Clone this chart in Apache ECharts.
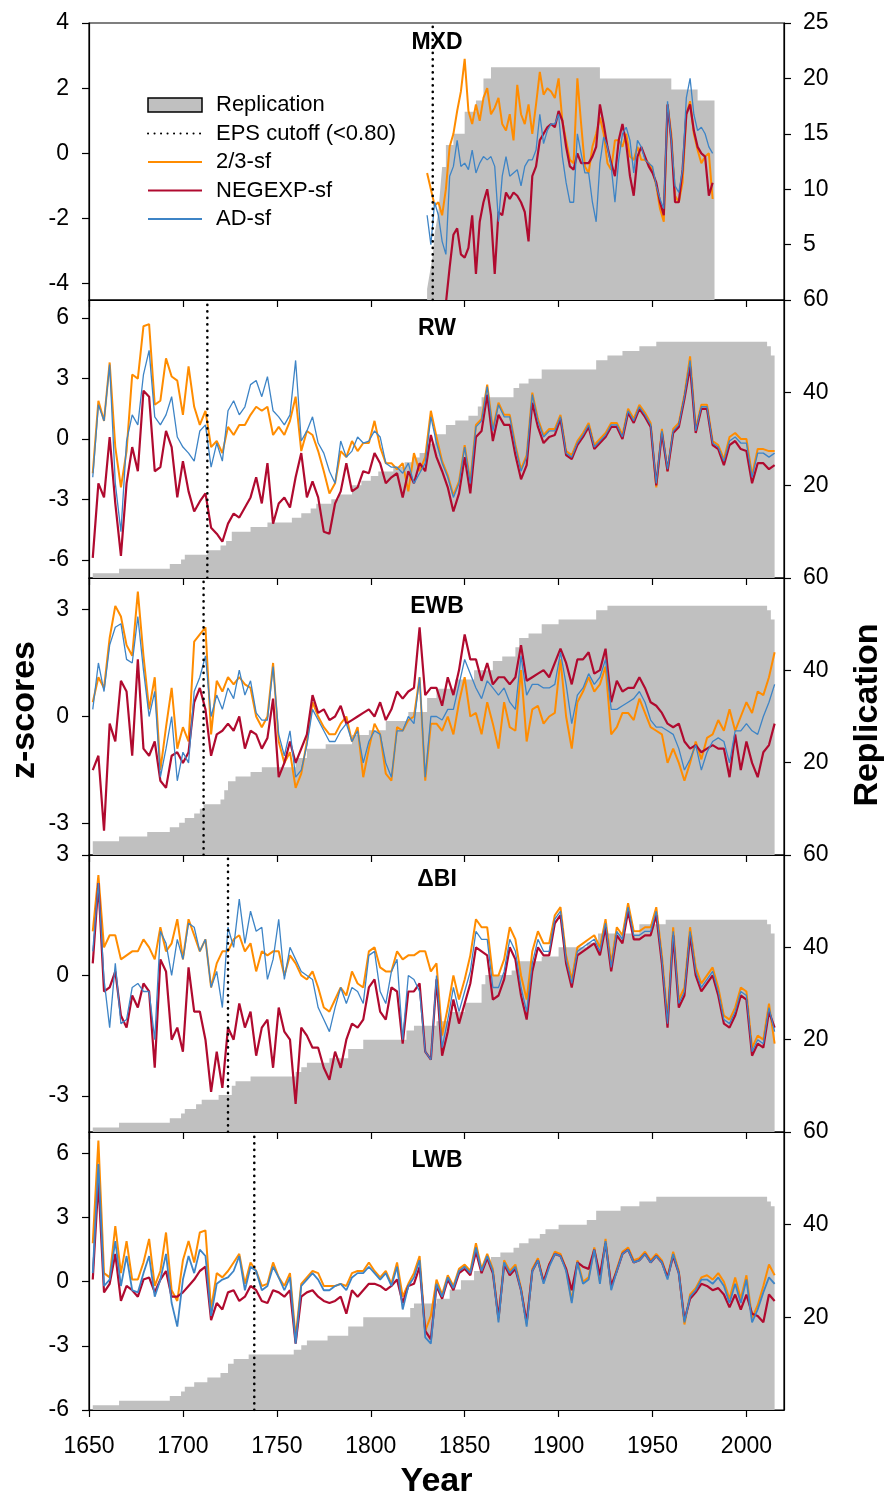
<!DOCTYPE html>
<html>
<head>
<meta charset="utf-8">
<script src="https://cdn.jsdelivr.net/npm/echarts@6/dist/echarts.min.js"></script>
<style>
  html, body { margin: 0; padding: 0; background: #fff; }
  #main { width: 890px; height: 1499px; }
</style>
</head>
<body>
<div id="main"></div>
<script>
// ---- data (z-scores, every 3rd year; MXD every 2nd year) ----
const years3 = [];
for (let y = 1652; y <= 2015; y += 3) years3.push(y);
const yearsMXD = [];
for (let y = 1830; y <= 1982; y += 2) yearsMXD.push(y);

const xTicks = [1650, 1700, 1750, 1800, 1850, 1900, 1950, 2000];

// MXD
const mxdOrange = [
  -0.6, -1.1, -1.6, -1.5, -1.9, -1.1, 0.2, 0.6, 1.3, 1.9,
  2.9, 1.3, 0.9, 1.5, 1.0, 1.7, 2.0, 1.2, 1.4, 1.7,
  0.9, 0.7, 1.2, 0.4, 2.1, 1.2, 0.9, 1.5, 0.6, 1.5,
  2.5, 1.8, 2.0, 1.9, 1.7, 2.3, 1.0, 0.4, -0.2, -0.3,
  2.3, 0.9, -0.4, -0.6, 0.2, 0.6, 1.1, 0.6, -0.3, -0.5,
  0.4, 0.4, 0.2, 0.6, -0.1, -0.2, 0.2, -0.2, -0.2, -0.3,
  -0.5, -1.0, -1.7, -2.1, 1.5, 0.6, -1.3, -1.5, -0.9, 1.2,
  1.6, 0.6, 0.1, -0.3, -0.1, 0.0, -1.4
];
const mxdRed = [
  -5.5, -6.0, -5.8, -6.2, -5.5, -4.6, -3.5, -2.5, -2.3, -3.1,
  -3.2, -2.9, -1.9, -3.7, -2.1, -1.5, -1.1, -1.9, -3.7, -1.8,
  -1.9, -1.2, -1.4, -1.2, -1.3, -1.5, -1.8, -2.7, -0.7, -0.4,
  0.4, 0.6, 0.8, 0.9, 0.8, 1.3, 1.0, 0.2, -0.4, -0.5,
  0.0, -0.3, -0.3, -0.3, -0.1, 0.2, 1.5, 0.9, 0.2, -0.3,
  -0.7, 0.4, 0.9, 0.3, -0.7, -1.3, -0.1, 0.2, -0.1, -0.4,
  -0.6, -0.9, -1.5, -1.9, 1.5, 0.4, -1.5, -1.5, -0.5, 1.2,
  1.5, 0.7, 0.2, 0.0, -0.1, -1.3, -0.9
];
const mxdBlue = [
  -1.9, -2.8, -1.5, -1.9, -2.7, -3.1, -0.7, -0.4, 0.4, -0.4,
  -0.3, -0.5, 0.1, -0.6, -0.3, -0.1, -0.2, -0.1, -0.4, -2.1,
  -0.7, -0.1, -0.7, -0.6, -0.5, -1.0, -0.4, -0.2, -0.2, 0.1,
  1.2, 0.3, 0.7, 0.9, 0.9, 1.2, -0.1, -0.9, -1.5, -1.5,
  0.6, 0.0, -0.6, -0.6, -1.5, -2.1, -0.3, 0.5, 0.2, -0.4,
  -1.5, -0.2, 0.6, 0.8, 0.4, -0.6, 0.4, 0.2, -0.2, -0.3,
  -0.4, -1.0, -1.4, -1.7, 1.6, 0.4, -1.0, -1.2, -0.5, 1.7,
  2.3, 1.2, 0.7, 0.8, 0.6, 0.2, 0.0
];
const mxdRepYears = [1830, 1831, 1832, 1833, 1834, 1835, 1836, 1837, 1838, 1840, 1844, 1850, 1856, 1860, 1864, 1922, 1960, 1974, 1983];
const mxdRepVals = [1, 2, 3, 4, 6, 7, 8, 10, 12, 14, 15, 17, 18, 20, 21, 20, 19, 18, 0];

// RW
const rwOrange = [
  -1.7, 1.9, 0.9, 3.8, -0.4, -2.4, -0.6, 3.2, 3.0, 5.6,
  5.7, 1.7, 1.9, 4.0, 3.1, 2.9, 1.2, 3.6, 1.6, 0.7,
  1.4, -0.4, -0.1, -0.7, 0.6, 0.2, 0.7, 0.7, 1.2, 1.6,
  1.4, 1.6, 0.2, 0.6, 0.2, 0.9, 2.1, -0.6, 0.4, 0.2,
  -0.6, -1.6, -2.7, -2.2, -0.6, -0.9, -0.1, -0.6, -0.2, -0.2,
  0.9, -0.4, -1.2, -1.2, -1.5, -1.2, -2.6, -0.7, -1.6, -0.9,
  1.4, 0.1,
  -1.1, -1.8, -2.8, -2.1, -0.3, -2.1, 0.7, 1.0, 2.7, 0.5,
  1.8, 1.2, 1.2, -0.3, -1.5, -0.8, 2.3, 1.0, 0.2, 0.5,
  0.5, 1.2, -0.6, -0.8, -0.1, 0.3, 0.8, -0.3, 0.0, 0.3,
  0.8, 0.8, 0.2, 1.5, 1.0, 1.7, 1.3, 0.8, -2.4, 0.5,
  -1.6, 0.5, 0.8, 2.2, 4.1, 0.5, 1.7, 1.7, -0.1, -0.3,
  -1.0, 0.1, 0.3, 0.0, 0.0, -1.8, -0.5, -0.5, -0.6, -0.6
];
const rwRed = [
  -5.9, -2.2, -2.9, 0.1, -3.2, -5.8, -2.2, -0.4, -1.6, 2.4,
  2.1, -1.6, -1.4, 0.4, -0.4, -2.9, -1.1, -2.6, -3.6, -3.1,
  -2.7, -4.4, -4.7, -5.1, -4.2, -3.7, -3.9, -3.4, -2.9, -1.9,
  -3.2, -1.2, -4.2, -3.2, -2.9, -3.4, -1.9, -0.7, -2.9, -2.1,
  -2.9, -4.6, -4.7, -3.2, -2.6, -1.2, -2.6, -2.4, -1.6, -1.7,
  -0.7, -1.2, -2.2, -1.9, -1.7, -2.9, -1.6, -2.2, -1.2, -1.6,
  0.2, -0.9,
  -1.6, -2.4, -3.6, -2.7, -0.9, -2.7, 0.1, 0.4, 2.2, -0.1,
  1.2, 0.7, 0.7, -0.8, -2.0, -1.3, 1.8, 0.6, -0.2, 0.1,
  0.2, 1.0, -0.8, -1.0, -0.3, 0.1, 0.6, -0.5, -0.2, 0.1,
  0.6, 0.6, 0.0, 1.3, 0.8, 1.5, 1.1, 0.6, -2.3, 0.3,
  -1.6, 0.3, 0.6, 2.0, 3.6, 0.3, 1.5, 1.5, -0.3, -0.5,
  -1.3, -0.3, -0.1, -0.5, -0.6, -2.2, -1.2, -1.2, -1.5, -1.3
];
const rwBlue = [
  -1.9, 1.7, 0.9, 3.7, -2.2, -4.6, -0.1, 1.2, 0.7, 3.2,
  4.4, 1.1, 0.7, 1.2, 2.1, 0.1, -0.4, -0.7, -1.1, 0.4,
  0.7, -1.4, -0.2, -1.1, 1.4, 1.9, 1.2, 1.6, 2.7, 2.9,
  2.1, 3.1, 1.4, 1.1, 0.7, 1.2, 3.9, -0.1, 0.4, 1.1,
  -0.2, -0.7, -1.6, -2.2, -0.1, -0.9, -0.6, 0.1, -0.2, -0.1,
  0.4, 0.1, -1.2, -1.4, -1.4, -1.7, -1.2, -2.2, -1.7, -1.2,
  1.1, -0.2,
  -1.2, -1.9, -2.9, -2.2, -0.4, -2.2, 0.6, 0.9, 2.6, 0.4,
  1.7, 1.1, 1.1, -0.4, -1.6, -0.9, 2.2, 0.9, 0.1, 0.4,
  0.4, 1.1, -0.7, -0.9, -0.2, 0.2, 0.7, -0.4, -0.1, 0.2,
  0.7, 0.7, 0.1, 1.4, 0.9, 1.6, 1.2, 0.7, -2.2, 0.4,
  -1.5, 0.4, 0.7, 2.1, 3.9, 0.4, 1.6, 1.6, -0.2, -0.4,
  -1.1, -0.1, 0.1, -0.2, -0.2, -1.9, -0.7, -0.7, -0.9, -0.7
];
const rwRepYears = [1652, 1666, 1693, 1699, 1701, 1713, 1720, 1723, 1726, 1736, 1745, 1758, 1763, 1768, 1771,
  1779, 1783, 1790, 1795, 1800, 1804, 1812, 1818, 1822, 1826, 1830, 1834, 1840, 1845, 1852, 1857, 1859,
  1876, 1879, 1884, 1891, 1920, 1926, 1934, 1943, 1952, 2011, 2013, 2015];
const rwRepVals = [1, 2, 3, 4, 5, 6, 7, 8, 10, 11, 12, 13, 14, 15, 16,
  17, 18, 20, 21, 22, 23, 24, 25, 26, 27, 29, 31, 33, 34, 35, 37, 39,
  41, 42, 43, 45, 47, 48, 49, 50, 51, 50, 48, 0];

// EWB
const ewbOrange = [
  0.4, 1.1, 0.8, 2.2, 3.1, 2.8, 2.0, 1.7, 3.5, 1.7,
  0.2, 1.1, -1.5, -0.3, 0.8, -0.9, -0.3, -0.7, 2.1, 2.3,
  2.5, -0.5, 1.0, 0.7, 1.1, 0.9, 1.1, 0.9, 0.8, 0.0,
  -0.3, 0.0, 1.5, -0.7, -1.3, -1.0, -2.0, -1.6, -0.7, 0.4,
  0.0, -0.3, -0.5, -0.5, -0.2, 0.0, -0.7, -0.3, -1.7, -0.9,
  -0.2, -0.5, -1.6, -1.8, -0.3, -0.4, -0.1, 0.0, 1.1, -1.8,
  -0.2, -0.2,
  -0.4, 0.0, -0.5, 0.4, 1.1, 0.0, 0.1, -0.5, 0.4, -0.2,
  -0.9, 0.4, -0.3, -0.4, 1.3, -0.7, 0.2, 0.3, -0.2, 0.0,
  0.1, 1.6, 0.0, -0.9, 0.4, 0.7, 1.1, 0.7, 0.9, 1.4,
  -0.5, -0.3, 0.1, 0.1, -0.1, 0.5, 0.1, -0.3, -0.4, -0.5,
  -1.3, -0.9, -1.3, -1.8, -1.3, -0.7, -1.2, -0.6, -0.5, -0.1,
  -0.4, 0.2, -0.4, 0.0, 0.4, 0.1, 0.7, 0.6, 1.1, 1.8
];
const ewbRed = [
  -1.5, -1.1, -3.2, -0.2, -0.7, 1.0, 0.7, -1.1, 1.6, -0.9,
  -1.1, -0.7, -1.8, -2.0, -1.1, -1.0, -1.3, -1.0, 0.4, 0.8,
  0.2, -1.1, -0.5, -0.4, -0.2, -0.4, 0.0, -0.9, -0.4, -0.5,
  -0.9, -0.6, 0.5, -1.7, -1.3, -0.7, -1.3, -0.9, -0.5, 0.6,
  0.1, 0.2, -0.1, 0.0, 0.3, -0.2, -0.1, 0.0, 0.1, 0.2,
  0.0, 0.4, -0.1, 0.2, 0.7, 0.5, 0.7, 0.8, 2.5, 0.6,
  0.8, 0.8,
  0.3, 1.1, 0.6, 1.3, 2.3, 1.6, 1.6, 1.0, 1.5, 0.9,
  1.1, 1.1, 0.9, 1.1, 2.0, 1.0, 1.1, 1.2, 1.3, 1.1,
  1.5, 1.9, 1.5, 0.9, 1.6, 1.6, 1.8, 1.2, 1.3, 1.9,
  0.4, 1.0, 0.7, 0.8, 0.8, 1.1, 0.8, 0.4, 0.3, 0.1,
  -0.2, -0.3, -0.2, -0.7, -0.9, -0.8, -1.0, -0.9, -0.8, -0.9,
  -0.9, -1.7, -0.5, -1.5, -0.7, -1.3, -1.7, -1.0, -0.8, -0.2
];
const ewbBlue = [
  0.2, 1.5, 0.7, 2.0, 2.5, 2.6, 1.6, 1.5, 2.8, 1.3,
  0.0, 0.7, -1.7, -0.9, 0.0, -1.8, -1.0, -1.3, 0.7, 1.1,
  1.7, 0.0, 0.6, 0.2, 0.8, 0.5, 1.3, 0.6, 1.0, 0.1,
  -0.1, -0.1, 1.4, -0.5, -1.1, -0.4, -1.7, -1.5, -0.8, 0.2,
  -0.1, -0.4, -0.7, -0.7, -0.4, -0.2, -0.7, -0.4, -1.3, -0.7,
  -0.4, -0.5, -1.3, -1.7, -0.4, -0.4, 0.0, -0.2, 1.1, -1.7,
  0.0, 0.0,
  -0.1, 0.2, 0.2, 0.9, 1.6, 1.2, 0.8, 0.5, 1.0, 0.8,
  0.6, 0.8, 0.4, 0.2, 1.7, 0.6, 0.9, 0.9, 0.8, 0.8,
  0.9, 1.8, 0.9, -0.2, 0.6, 0.8, 1.2, 0.9, 1.1, 1.6,
  0.2, 0.2, 0.3, 0.4, 0.5, 0.7, 0.4, -0.1, -0.3, -0.3,
  -0.4, -0.5, -0.9, -1.5, -1.2, -0.8, -1.5, -1.0, -0.7, -0.6,
  -0.7, -1.3, -0.4, -0.4, -0.2, -0.4, -0.5, 0.0, 0.4, 0.9
];
const ewbRepYears = [1652, 1666, 1681, 1693, 1698, 1701, 1706, 1709, 1711, 1720, 1722, 1724, 1728, 1736,
  1742, 1760, 1766, 1776, 1790, 1799, 1808, 1820, 1830, 1835, 1845, 1855, 1865, 1870, 1877, 1879,
  1884, 1891, 1900, 1920, 1926, 2011, 2013, 2015];
const ewbRepVals = [3, 4, 5, 6, 7, 8, 9, 10, 11, 12, 14, 16, 17, 18,
  19, 21, 23, 24, 26, 27, 29, 31, 34, 36, 38, 40, 42, 43, 45, 47,
  48, 50, 51, 53, 54, 53, 51, 0];

// ΔBI
const dbiOrange = [
  1.1, 2.5, 0.7, 1.0, 1.0, 0.4, 0.5, 0.6, 0.6, 0.9,
  0.7, 0.4, 1.2, 0.6, 0.8, 1.4, 0.4, 1.4, 1.0, 0.6,
  0.9, -0.3, 0.3, 0.6, 0.6, 0.9, 1.0, 0.6, 0.8, 0.1,
  0.6, 0.5, 0.6, 0.6, 0.0, 0.5, 0.3, 0.0, -0.1, 0.1,
  -0.3, -0.8, -0.9, -0.6, -0.3, -0.5, 0.1, -0.2, -0.3, 0.6,
  0.7, 0.2, 0.1, 0.1, 0.6, 0.4, 0.5, 0.5, 0.6, 0.6,
  0.1, 0.3,
  -1.5, -0.8, 0.0, -0.6, -0.1, 0.5, 1.4, 1.2, 1.2, 0.0,
  0.0, 0.4, 1.2, 0.9, 0.0, -0.6, 0.6, 1.1, 0.8, 0.8,
  1.5, 1.7, 0.5, -0.1, 0.7, 0.8, 0.9, 1.0, 0.7, 1.4,
  0.3, 1.2, 1.0, 1.8, 1.1, 1.1, 1.2, 1.2, 1.7, 0.5,
  -1.1, 1.2, -0.6, -0.3, 1.2, 0.2, -0.2, 0.0, 0.2, -0.3,
  -1.0, -1.1, -0.8, -0.3, -0.4, -1.8, -1.5, -1.6, -0.7, -1.7
];
const dbiRed = [
  0.3, 2.3, -0.4, -0.3, 0.1, -1.0, -1.3, -0.5, -0.8, -0.2,
  -0.4, -2.3, 0.4, 0.1, -1.6, -1.3, -1.9, 0.2, -0.9, -0.9,
  -1.6, -2.9, -1.9, -2.8, -1.3, -1.6, -0.7, -1.3, -0.9, -2.0,
  -1.3, -1.1, -2.3, -0.8, -1.4, -1.6, -3.2, -1.3, -1.5, -1.8,
  -1.8, -2.3, -2.6, -1.9, -2.3, -1.6, -1.2, -1.3, -1.1, -0.3,
  -0.1, -0.9, -1.1, -0.3, -0.4, -1.7, -0.4, -0.4, -0.2, -1.9,
  -2.1, -0.1,
  -2.0, -1.4, -0.6, -1.2, -0.7, -0.2, 0.7, 0.6, 0.5, -0.6,
  -0.5, -0.1, 0.7, 0.4, -0.5, -1.1, 0.1, 0.7, 0.5, 0.5,
  1.3, 1.5, 0.3, -0.3, 0.5, 0.6, 0.7, 0.8, 0.5, 1.2,
  0.1, 1.0, 0.8, 1.6, 0.9, 0.9, 1.0, 1.0, 1.5, 0.3,
  -1.3, 1.0, -0.8, -0.5, 1.0, 0.0, -0.4, -0.2, 0.0, -0.5,
  -1.2, -1.3, -1.0, -0.5, -0.6, -2.0, -1.7, -1.8, -0.9, -1.3
];
const dbiBlue = [
  0.6, 2.3, -0.1, -1.3, 0.3, -1.2, -1.1, -0.3, -0.2, -0.4,
  -0.4, -1.6, 1.1, 0.8, 0.0, 0.9, 0.4, 1.3, 1.2, 0.6,
  0.9, -0.3, 0.1, -0.8, 1.2, 0.7, 1.9, 0.8, 1.6, 1.1,
  1.2, -0.1, 0.4, 1.4, -0.1, 0.7, 0.4, 0.1, 0.0, -0.1,
  -0.8, -1.1, -1.4, -0.8, -0.3, -0.7, -0.3, -0.4, -0.7, 0.5,
  0.6, -0.4, -0.7, 0.1, 0.4, -1.6, 0.0, -0.1, -0.4, -1.9,
  -2.1, 0.0,
  -1.8, -1.1, -0.3, -0.9, -0.4, 0.1, 1.1, 0.9, 0.9, -0.3,
  -0.3, 0.1, 0.9, 0.6, -0.3, -0.9, 0.3, 0.9, 0.6, 0.6,
  1.4, 1.6, 0.4, -0.2, 0.6, 0.7, 0.8, 0.9, 0.6, 1.3,
  0.2, 1.1, 0.9, 1.7, 1.0, 1.0, 1.1, 1.1, 1.6, 0.4,
  -1.2, 1.1, -0.7, -0.4, 1.1, 0.1, -0.3, -0.1, 0.1, -0.4,
  -1.1, -1.2, -0.9, -0.4, -0.5, -1.9, -1.6, -1.7, -0.8, -1.4
];
const dbiRepYears = [1652, 1666, 1693, 1699, 1701, 1707, 1710, 1719, 1726, 1728, 1736, 1760, 1763, 1766,
  1778, 1788, 1796, 1819, 1823, 1835, 1842, 1850, 1859, 1861, 1875, 1877, 1891, 1900, 1915, 1921,
  1943, 1957, 2011, 2013, 2015];
const dbiRepVals = [1, 2, 3, 4, 5, 6, 7, 8, 10, 11, 12, 13, 14, 15,
  16, 18, 20, 22, 23, 24, 26, 28, 32, 34, 35, 37, 38, 40, 41, 43,
  45, 46, 45, 43, 0];

// LWB
const lwbOrange = [
  1.8, 6.6, 0.4, 0.2, 2.6, 0.4, 1.9, 0.1, 0.1, 0.9,
  2.0, -0.2, 0.5, 2.3, -0.4, -0.9, 1.0, 1.9, 0.9, 2.3,
  2.4, -1.3, 0.4, 0.2, 0.5, 0.9, 1.3, -0.1, 0.9, 0.5,
  -0.2, -0.1, 0.9, 0.2, -0.2, 0.4, -2.6, -0.1, 0.2, 0.5,
  0.4, -0.2, -0.2, -0.2, -0.1, -0.2, 0.4, 0.5, 0.5, 0.9,
  0.5, 0.2, 0.5, -0.1, 0.9, -0.7, -0.1, 0.4, 1.2, -2.3,
  -1.6, 0.1,
  -0.6, 0.3, -0.2, 0.6, 0.8, 0.5, 1.8, 0.6, 1.3, 0.6,
  -1.8, 1.0, 0.5, 0.8, -0.3, -2.0, 0.6, 1.1, 0.0, 0.8,
  1.4, 1.3, 0.6, -0.9, 1.0, 0.0, 0.2, 1.6, 0.0, 2.0,
  -0.3, 0.6, 1.4, 1.6, 1.0, 1.1, 1.4, 1.0, 1.3, 1.0,
  0.2, 1.4, 0.5, -2.0, -0.6, -0.3, 0.2, 0.3, 0.1, 0.4,
  0.0, -0.8, 0.2, -0.8, 0.3, -1.7, -1.1, -0.2, 0.8, 0.3
];
const lwbRed = [
  0.1, 4.7, -0.5, -0.1, 1.3, -0.9, -0.2, -0.4, -0.7, 0.1,
  0.2, -0.5, 0.1, 0.5, -0.7, -0.7, -0.5, -0.2, 0.1, 0.5,
  0.7, -1.8, -1.0, -1.3, -0.5, -0.4, -0.9, -0.7, -0.2, -0.4,
  -0.9, -1.0, -0.4, -0.5, -0.7, -0.4, -2.9, -0.7, -0.5, -0.4,
  -0.7, -0.9, -1.0, -0.9, -0.7, -1.5, -0.4, -0.7, -0.4, -0.1,
  -0.1, -0.2, -0.4, -0.2, 0.1, -1.0, -0.2, -0.1, 0.7, -2.3,
  -2.7, -0.2,
  -0.8, 0.1, -0.4, 0.4, 0.6, 0.3, 1.4, 0.4, 1.1, 0.4,
  -1.7, 0.8, 0.3, 0.6, -0.4, -1.9, 0.5, 1.0, 0.0, 0.8,
  1.3, 1.2, 0.6, -0.4, 0.9, 0.7, 0.6, 1.5, 0.3, 1.8,
  -0.2, 0.5, 1.3, 1.5, 0.9, 1.0, 1.3, 0.9, 1.2, 0.9,
  0.2, 1.2, 0.4, -1.8, -0.8, -0.5, -0.1, -0.2, -0.4, -0.3,
  -0.6, -1.2, -0.6, -1.3, -0.6, -1.5, -1.6, -1.9, -0.6, -0.9
];
const lwbBlue = [
  0.4, 5.5, -0.2, 0.1, 1.9, -0.2, 1.2, -0.4, -0.5, 0.4,
  1.2, -0.7, 0.1, 1.3, -1.0, -2.1, 0.1, 1.2, 0.4, 1.5,
  1.2, -1.6, -0.1, 0.1, 0.2, 0.5, 1.2, -0.4, 0.7, 0.5,
  -0.4, -0.2, 0.7, 0.2, -0.4, 0.2, -2.9, -0.2, 0.1, 0.4,
  0.1, -0.4, -0.4, -0.2, -0.1, -0.4, 0.2, 0.4, 0.4, 0.7,
  0.4, 0.1, 0.4, -0.2, 0.7, -1.3, -0.2, 0.2, 1.0, -2.6,
  -2.9, -0.1,
  -0.7, 0.2, -0.3, 0.5, 0.7, 0.4, 1.6, 0.5, 1.2, 0.5,
  -1.9, 0.9, 0.4, 0.7, -0.4, -2.1, 0.5, 1.0, -0.1, 0.7,
  1.3, 1.2, 0.5, -1.0, 0.9, -0.1, 0.1, 1.5, -0.1, 1.9,
  -0.4, 0.5, 1.3, 1.5, 0.9, 1.0, 1.3, 0.9, 1.2, 0.9,
  0.1, 1.3, 0.4, -1.9, -0.7, -0.4, 0.1, 0.1, -0.1, 0.2,
  -0.2, -1.0, -0.1, -1.0, 0.1, -1.9, -1.3, -0.5, 0.2, -0.1
];
const lwbRepYears = [1652, 1666, 1693, 1699, 1701, 1706, 1713, 1720, 1724, 1727, 1735, 1759, 1763, 1766,
  1777, 1788, 1796, 1821, 1823, 1835, 1842, 1848, 1855, 1860, 1864, 1869, 1876, 1879, 1884, 1890,
  1893, 1900, 1915, 1920, 1933, 1943, 1952, 2011, 2013, 2015];
const lwbRepVals = [1, 2, 3, 4, 5, 6, 7, 8, 10, 11, 12, 13, 14, 15,
  16, 18, 20, 22, 23, 24, 26, 28, 30, 32, 33, 34, 35, 36, 37, 38,
  39, 40, 41, 43, 44, 45, 46, 45, 44, 0];

// ---- panels ----
const panels = [
  { title: 'MXD', years: yearsMXD, orange: mxdOrange, red: mxdRed, blue: mxdBlue,
    repYears: mxdRepYears, repVals: mxdRepVals, repMax: 25, repInterval: 5,
    zMin: -4.5, zMax: 4, zTicks: [-4, -2, 0, 2, 4], cutoff: 1833, top: 23, height: 277, titleDy: 20 },
  { title: 'RW', years: years3, orange: rwOrange, red: rwRed, blue: rwBlue,
    repYears: rwRepYears, repVals: rwRepVals, repMax: 60, repInterval: 20,
    zMin: -6.9, zMax: 6.9, zTicks: [-6, -3, 0, 3, 6], cutoff: 1713, top: 300, height: 278, titleDy: 29 },
  { title: 'EWB', years: years3, orange: ewbOrange, red: ewbRed, blue: ewbBlue,
    repYears: ewbRepYears, repVals: ewbRepVals, repMax: 60, repInterval: 20,
    zMin: -3.88, zMax: 3.88, zTicks: [-3, 0, 3], cutoff: 1711, top: 578, height: 277, titleDy: 29 },
  { title: 'ΔBI', years: years3, orange: dbiOrange, red: dbiRed, blue: dbiBlue,
    repYears: dbiRepYears, repVals: dbiRepVals, repMax: 60, repInterval: 20,
    zMin: -3.9, zMax: 3, zTicks: [-3, 0, 3], cutoff: 1724, top: 855, height: 277, titleDy: 25 },
  { title: 'LWB', years: years3, orange: lwbOrange, red: lwbRed, blue: lwbBlue,
    repYears: lwbRepYears, repVals: lwbRepVals, repMax: 60, repInterval: 20,
    zMin: -6, zMax: 7, zTicks: [-6, -3, 0, 3, 6], cutoff: 1738, top: 1132, height: 278, titleDy: 29 }
];

const FONT = '"Liberation Sans", Arial, Helvetica, sans-serif';
const ORANGE = '#ff8c00', RED = '#b00a2f', BLUE = '#3d84c6', GREY = '#c0c0c0';

const grids = [], xAxes = [], yAxes = [], series = [], graphics = [];

panels.forEach((p, i) => {
  const last = i === panels.length - 1;
  grids.push({ left: 89, right: 106, top: p.top, height: p.height, show: true,
    outerBoundsMode: 'none', containLabel: false,
    borderColor: '#000', borderWidth: 1.2, backgroundColor: 'transparent' });

  xAxes.push({
    gridIndex: i, type: 'value', min: 1650, max: 2020, z: 10, position: 'bottom',
    axisLine: { show: true, onZero: false, lineStyle: { color: '#000', width: 1.2 } },
    axisTick: { show: true, inside: false, length: 7, customValues: xTicks, lineStyle: { color: '#000', width: 1.2 } },
    axisLabel: { show: last, customValues: xTicks, formatter: v => String(v),
      fontSize: 23, color: '#000', fontFamily: FONT, margin: 25 },
    splitLine: { show: false },
    name: last ? 'Year' : '', nameLocation: 'middle', nameGap: 55,
    nameTextStyle: { fontSize: 34, fontWeight: 'bold', color: '#000', fontFamily: FONT }
  });

  yAxes.push({
    gridIndex: i, type: 'value', position: 'left', min: p.zMin, max: p.zMax, z: 10,
    axisLine: { show: true, onZero: false, lineStyle: { color: '#000', width: 1.2 } },
    axisTick: { show: true, inside: false, length: 7, customValues: p.zTicks, lineStyle: { color: '#000', width: 1.2 } },
    axisLabel: { customValues: p.zTicks, fontSize: 23, color: '#000', fontFamily: FONT, margin: 20 },
    splitLine: { show: false }
  });
  yAxes.push({
    gridIndex: i, type: 'value', position: 'right', min: 0, max: p.repMax, interval: p.repInterval, z: 10,
    axisLine: { show: true, onZero: false, lineStyle: { color: '#000', width: 1.2 } },
    axisTick: { show: true, inside: false, length: 7, lineStyle: { color: '#000', width: 1.2 } },
    axisLabel: { showMinLabel: false, fontSize: 23, color: '#000', fontFamily: FONT, margin: 19 },
    splitLine: { show: false }
  });

  const pair = (xs, ys) => xs.map((x, k) => [x, ys[k]]);

  series.push({
    name: 'Replication', type: 'line', xAxisIndex: i, yAxisIndex: 2 * i + 1, step: 'end',
    data: pair(p.repYears, p.repVals), symbol: 'none', silent: true, z: 1,
    lineStyle: { width: 0, color: GREY }, itemStyle: { color: GREY },
    areaStyle: { color: GREY, opacity: 1 }
  });
  const lineSeries = (name, vals, color, width, z) => ({
    name, type: 'line', xAxisIndex: i, yAxisIndex: 2 * i, data: pair(p.years, vals),
    symbol: 'none', silent: true, z, lineStyle: { color, width }, itemStyle: { color }
  });
  series.push(lineSeries('2/3-sf', p.orange, ORANGE, 2, 2));
  series.push(lineSeries('NEGEXP-sf', p.red, RED, 2.2, 3));
  series.push(lineSeries('AD-sf', p.blue, BLUE, last ? 1.8 : 1.3, 4));
  series.push({
    name: 'EPS cutoff (<0.80)', type: 'line', xAxisIndex: i, yAxisIndex: 2 * i,
    data: [[p.cutoff, p.zMin], [p.cutoff, p.zMax]], symbol: 'none', silent: true, z: 6,
    lineStyle: { color: '#000', width: 2.6, type: [0.1, 6.4], cap: 'round' }, itemStyle: { color: '#000' }
  });

  graphics.push({
    type: 'text', x: 437, y: p.top + p.titleDy, z: 100, silent: true,
    style: { text: p.title, font: 'bold 23px ' + FONT, fill: '#000', textAlign: 'center',
      textVerticalAlign: 'middle', verticalAlign: 'middle' }
  });
});

graphics.push({
  type: 'text', x: 25, y: 710, rotation: Math.PI / 2, z: 100, silent: true,
  style: { text: 'z-scores', font: 'bold 34px ' + FONT, fill: '#000', textAlign: 'center',
    textVerticalAlign: 'middle', verticalAlign: 'middle' }
});
graphics.push({
  type: 'text', x: 868, y: 715, rotation: Math.PI / 2, z: 100, silent: true,
  style: { text: 'Replication', font: 'bold 34px ' + FONT, fill: '#000', textAlign: 'center',
    textVerticalAlign: 'middle', verticalAlign: 'middle' }
});

const chart = echarts.init(document.getElementById('main'), null, { renderer: 'canvas' });
chart.setOption({
  animation: false,
  backgroundColor: '#fff',
  grid: grids,
  xAxis: xAxes,
  yAxis: yAxes,
  legend: {
    left: 142, top: 89, orient: 'vertical', itemWidth: 54, itemHeight: 14, itemGap: 6.5,
    selectedMode: false,
    itemStyle: { opacity: 0 },
    textStyle: { fontSize: 22, lineHeight: 22, color: '#000', fontFamily: FONT, padding: [0, 0, 0, 9] },
    data: [
      { name: 'Replication', icon: 'rect',
        itemStyle: { color: GREY, borderColor: '#000', borderWidth: 1.5, opacity: 1 } },
      { name: 'EPS cutoff (<0.80)' },
      { name: '2/3-sf' },
      { name: 'NEGEXP-sf' },
      { name: 'AD-sf' }
    ]
  },
  graphic: graphics,
  series: series
});
</script>
</body>
</html>
